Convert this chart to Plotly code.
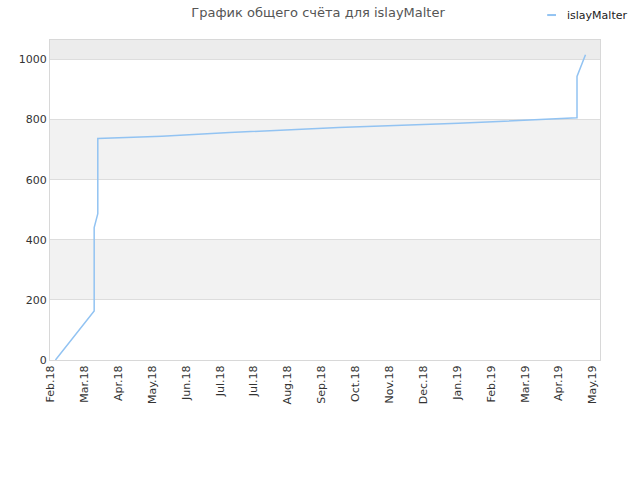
import plotly.graph_objects as go

# score history
dates = ["2018-02-16", "2018-03-20", "2018-03-20", "2018-03-23", "2018-03-23",
         "2018-05-15", "2018-07-10", "2018-10-08", "2019-01-15", "2019-04-23",
         "2019-04-23", "2019-04-30"]
scores = [0, 163, 441, 487, 737, 745, 757, 774, 788, 806, 944, 1016]

tick_dates = ["2018-02-12", "2018-03-12", "2018-04-09", "2018-05-07", "2018-06-04",
              "2018-07-02", "2018-07-30", "2018-08-27", "2018-09-24", "2018-10-22",
              "2018-11-19", "2018-12-17", "2019-01-14", "2019-02-11", "2019-03-11",
              "2019-04-08", "2019-05-06"]
tick_labels = ["Feb.18", "Mar.18", "Apr.18", "May.18", "Jun.18", "Jul.18", "Jul.18",
               "Aug.18", "Sep.18", "Oct.18", "Nov.18", "Dec.18", "Jan.19", "Feb.19",
               "Mar.19", "Apr.19", "May.19"]

y_ticks = [0, 200, 400, 600, 800, 1000]
y_max = 1065
line_color = "#92c3f2"

fig = go.Figure()
fig.add_trace(go.Scatter(x=dates, y=scores, mode="lines", name="islayMalter",
                         line=dict(color=line_color, width=1.5), showlegend=False))

# alternating grey bands
bands = [(200, 400, "#f2f2f2"), (600, 800, "#f2f2f2"), (1000, y_max, "#ececec")]
for y0, y1, col in bands:
    fig.add_shape(type="rect", xref="paper", yref="y", x0=0, x1=1, y0=y0, y1=y1,
                  fillcolor=col, line_width=0, layer="below")

# small legend in the top right corner
fig.add_shape(type="line", xref="paper", yref="paper", x0=0.904, x1=0.92,
              y0=1.078, y1=1.078, line=dict(color=line_color, width=2))
fig.add_annotation(text="islayMalter", xref="paper", yref="paper", x=0.936, y=1.078,
                   xanchor="left", yanchor="middle", showarrow=False,
                   font=dict(size=11, color="#222"))

fig.update_layout(
    width=640, height=480,
    margin=dict(l=50, r=40, t=40, b=120, autoexpand=False),
    paper_bgcolor="white", plot_bgcolor="white",
    font=dict(family="DejaVu Sans", size=11, color="#333"),
    title=dict(text="График общего счёта для islayMalter", x=0.497, xanchor="center",
               y=0.983, yanchor="top", font=dict(size=13, color="#555")),
)
fig.update_xaxes(type="date", range=["2018-02-11 12:00", "2019-05-12"],
                 tickvals=tick_dates, ticktext=tick_labels, tickangle=-90,
                 showgrid=False, showline=True, linecolor="#d8d8d8", mirror=True,
                 ticks="", zeroline=False)
fig.update_yaxes(range=[0, y_max], tickvals=y_ticks, showgrid=True, gridcolor="#dddddd",
                 showline=True, linecolor="#d8d8d8", mirror=True, zeroline=False, ticks="")

fig.write_html("out.html", config={"displayModeBar": False},
               post_script="document.body.style.margin='0';")
